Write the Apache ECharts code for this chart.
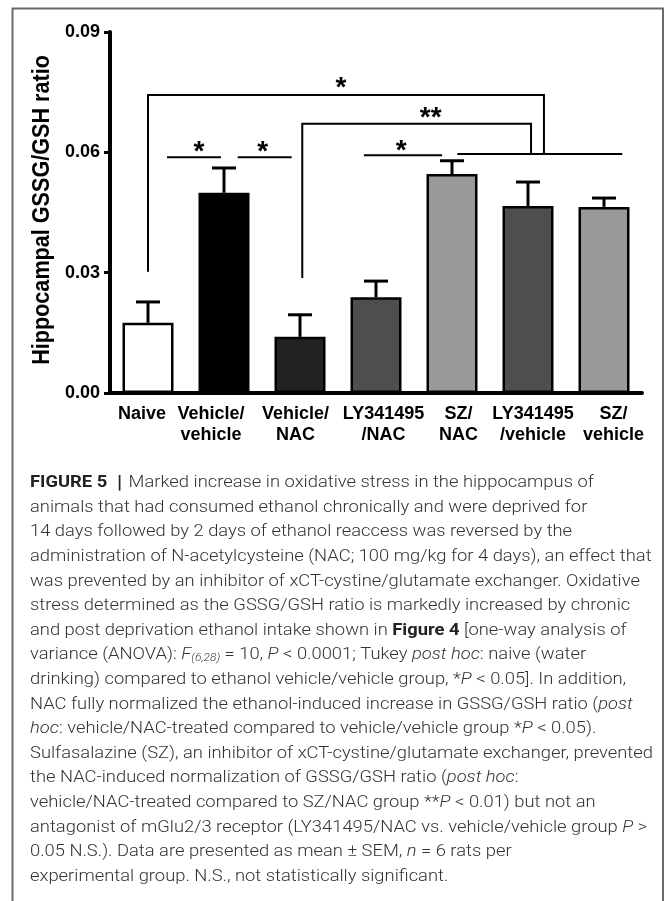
<!DOCTYPE html>
<html><head><meta charset="utf-8">
<script src="https://cdn.jsdelivr.net/npm/echarts@6/dist/echarts.min.js"></script>
<style>html,body{margin:0;padding:0;background:#fff}#c{width:666px;height:901px}</style>
</head><body><div id="c"></div>
<script>
// ---- data ----
var categories = ['Naive', 'Vehicle/\nvehicle', 'Vehicle/\nNAC', 'LY341495\n/NAC', 'SZ/\nNAC', 'LY341495\n/vehicle', 'SZ/\nvehicle'];
var means = [0.0175, 0.0499, 0.0140, 0.0239, 0.0546, 0.0466, 0.0464];
var sem = [0.0052, 0.0062, 0.0055, 0.0040, 0.0033, 0.0060, 0.0022];
var yTicks = [0, 0.03, 0.06, 0.09];
var yTitle = 'Hippocampal GSSG/GSH ratio';
// brackets: [xLeft, xRight, yTop, yLeftEnd, yRightEnd] (x in category units)
var brackets = [[0.0, 5.21, 0.0743, 0.0302, 0.0596], [2.03, 5.04, 0.0671, 0.0287, 0.0596]];
// plain significance lines: [x1, x2, y]
var sigLines = [[0.25, 0.96, 0.0588], [1.18, 1.89, 0.0588], [2.84, 3.87, 0.0593], [4.07, 6.24, 0.0596]];
// stars: [x, y, label]
var stars = [[0.67, 0.0613, '*'], [1.51, 0.0613, '*'], [3.33, 0.0616, '*'], [2.54, 0.0773, '*'], [3.72, 0.0698, '**']];
var captionLines = [
  '{b|FIGURE 5}{bar||}Marked increase in oxidative stress in the hippocampus of',
  'animals that had consumed ethanol chronically and were deprived for',
  '14 days followed by 2 days of ethanol reaccess was reversed by the',
  'administration of N-acetylcysteine (NAC; 100 mg/kg for 4 days), an effect that',
  'was prevented by an inhibitor of xCT-cystine/glutamate exchanger. Oxidative',
  'stress determined as the GSSG/GSH ratio is markedly increased by chronic',
  'and post deprivation ethanol intake shown in {b|Figure 4} [one-way analysis of',
  'variance (ANOVA): {i|F}{sub|(6,28)} = 10, {i|P} < 0.0001; Tukey {i|post hoc}: naive (water',
  'drinking) compared to ethanol vehicle/vehicle group, *{i|P} < 0.05]. In addition,',
  'NAC fully normalized the ethanol-induced increase in GSSG/GSH ratio ({i|post}',
  '{i|hoc}: vehicle/NAC-treated compared to vehicle/vehicle group *{i|P} < 0.05).',
  'Sulfasalazine (SZ), an inhibitor of xCT-cystine/glutamate exchanger, prevented',
  'the NAC-induced normalization of GSSG/GSH ratio ({i|post hoc}:',
  'vehicle/NAC-treated compared to SZ/NAC group **{i|P} < 0.01) but not an',
  'antagonist of mGlu2/3 receptor (LY341495/NAC vs. vehicle/vehicle group {i|P} >',
  '0.05 N.S.). Data are presented as mean \u00b1 SEM, {i|n} = 6 rats per',
  'experimental group. N.S., not statistically significant.'
];

// ---- styles ----
var barColors = ['#ffffff', '#000000', '#222222', '#4e4e4e', '#999999', '#4e4e4e', '#999999'];
var labelDx = [-6, -13, -4.5, 7.5, 6.5, 5, 9.5]; // horizontal label nudges in px (as in the original figure)
var BOLD = 'Liberation Sans, Arial, sans-serif';
var CAPF = 'Roboto, sans-serif';

var chart = echarts.init(document.getElementById('c'), null, {renderer: 'canvas'});

var graphics = [
  {type: 'polyline', shape: {points: [[12.5, 901], [12.5, 8.5], [663, 8.5], [663, 901]]}, style: {stroke: '#6a6a6a', lineWidth: 2, fill: null}, silent: true},
  {type: 'text', x: 42, y: 210, rotation: Math.PI / 2, scaleX: 0.9,
   style: {text: yTitle, font: 'bold 24px ' + BOLD, fill: '#000', textAlign: 'center', textVerticalAlign: 'middle'}}
];
captionLines.forEach(function (t, k) {
  graphics.push({type: 'text', x: 30, y: 483 + k * 24.6, scaleX: 1.08, silent: true,
    style: {text: t, fontFamily: CAPF, fontSize: 17, fontWeight: 300, fill: '#333', textVerticalAlign: 'middle',
      rich: {
        b: {fontFamily: CAPF, fontSize: 17, fontWeight: 'bold', fill: '#222'},
        bar: {fontFamily: CAPF, fontSize: 19, fontWeight: 'bold', fill: '#222', padding: [0, 6, 0, 9]},
        i: {fontFamily: CAPF, fontSize: 17, fontWeight: 300, fontStyle: 'italic', fill: '#333'},
        sub: {fontFamily: CAPF, fontSize: 11, fontWeight: 300, fontStyle: 'italic', fill: '#333', verticalAlign: 'bottom', lineHeight: 12}
      }}});
});

var option = {
  animation: false,
  grid: {left: 110, right: 24, top: 32, height: 361, containLabel: false},
  xAxis: [
    {type: 'category', data: categories, axisLine: {lineStyle: {color: '#000', width: 4}}, axisTick: {show: false},
     axisLabel: {show: false}},
    {type: 'value', min: -0.5, max: 6.5, show: false}
  ],
  yAxis: {type: 'value', min: 0, max: 0.09, interval: 0.03,
    axisLine: {show: true, onZero: false, lineStyle: {color: '#000', width: 4}},
    axisTick: {show: true, length: 6, lineStyle: {color: '#000', width: 3}},
    splitLine: {show: false},
    axisLabel: {color: '#000', fontFamily: BOLD, fontWeight: 'bold', fontSize: 18, margin: 10,
      formatter: function (v) { return yTicks.indexOf(+v.toFixed(2)) >= 0 ? v.toFixed(2) : ''; }}},
  graphic: graphics,
  series: [
    {type: 'bar', barWidth: 51, z: 3,
     data: means.map(function (m, i) { return {value: m, itemStyle: {color: barColors[i], borderColor: '#000', borderWidth: 2.5}}; })},
    {type: 'custom', z: 2, data: means.map(function (m, i) { return [i, m, m + sem[i]]; }),
     renderItem: function (params, api) {
       var p0 = api.coord([api.value(0), api.value(1)]);
       var p1 = api.coord([api.value(0), api.value(2)]);
       var st = {stroke: '#000', lineWidth: 3};
       return {type: 'group', children: [
         {type: 'line', shape: {x1: p0[0], y1: p0[1], x2: p1[0], y2: p1[1]}, style: st},
         {type: 'line', shape: {x1: p1[0] - 12, y1: p1[1], x2: p1[0] + 12, y2: p1[1]}, style: st}
       ]};
     }},
    {type: 'custom', z: 4, data: categories.map(function (c, i) { return [i, 0]; }),
     renderItem: function (params, api) {
       var p = api.coord([api.value(0), 0]);
       return {type: 'text', x: p[0] + labelDx[params.dataIndex], y: p[1] + 11,
         style: {text: categories[params.dataIndex], font: 'bold 18px ' + BOLD, fill: '#000', textAlign: 'center', textVerticalAlign: 'top', lineHeight: 21}};
     }},
    {type: 'custom', xAxisIndex: 1, z: 4, data: brackets,
     renderItem: function (params, api) {
       var a = api.coord([api.value(0), api.value(3)]);
       var b = api.coord([api.value(0), api.value(2)]);
       var c = api.coord([api.value(1), api.value(2)]);
       var d = api.coord([api.value(1), api.value(4)]);
       return {type: 'polyline', shape: {points: [a, b, c, d]}, style: {stroke: '#000', lineWidth: 2, fill: null}};
     }},
    {type: 'custom', xAxisIndex: 1, z: 4, data: sigLines,
     renderItem: function (params, api) {
       var a = api.coord([api.value(0), api.value(2)]);
       var b = api.coord([api.value(1), api.value(2)]);
       return {type: 'line', shape: {x1: a[0], y1: a[1], x2: b[0], y2: b[1]}, style: {stroke: '#000', lineWidth: 2}};
     }},
    {type: 'custom', xAxisIndex: 1, z: 4, data: stars.map(function (s) { return [s[0], s[1]]; }),
     renderItem: function (params, api) {
       var p = api.coord([api.value(0), api.value(1)]);
       return {type: 'text', x: p[0], y: p[1] + 5,
         style: {text: stars[params.dataIndex][2], font: 'bold 28px ' + BOLD, fill: '#000', textAlign: 'center', textVerticalAlign: 'middle'}};
     }}
  ]
};
chart.setOption(option);
</script>
</body></html>
